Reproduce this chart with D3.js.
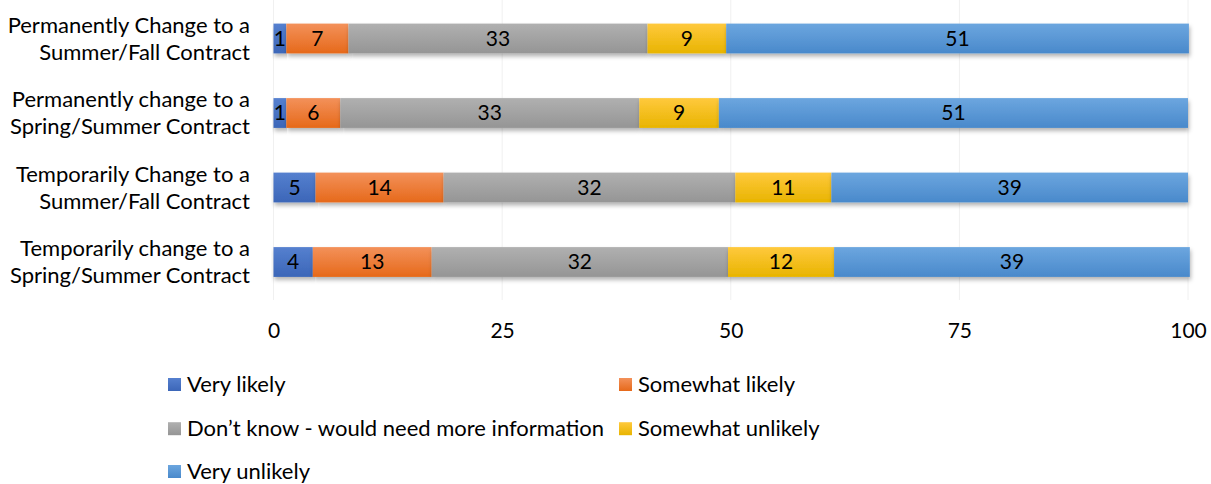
<!DOCTYPE html>
<html>
<head>
<meta charset="utf-8">
<script src="https://cdn.jsdelivr.net/npm/d3@7"></script>
<style>
  body { margin: 0; background: #fff; }
  svg { display: block; font-family: Lato, "Noto Sans", sans-serif; }
</style>
</head>
<body>
<div class="chart"></div>
<script>
const categories = [
  ["Permanently Change to a", "Summer/Fall Contract"],
  ["Permanently change to a", "Spring/Summer Contract"],
  ["Temporarily Change to a", "Summer/Fall Contract"],
  ["Temporarily change to a", "Spring/Summer Contract"]
];
const seriesNames = ["Very likely", "Somewhat likely", "Don\u2019t know - would need more information", "Somewhat unlikely", "Very unlikely"];
const veryLikely = [1.4, 1.4, 4.6, 4.3];
const somewhatLikely = [6.8, 5.9, 14.0, 13.0];
const dontKnow = [32.7, 32.7, 31.9, 32.4];
const somewhatUnlikely = [8.6, 8.7, 10.5, 11.6];
const veryUnlikely = [50.6, 51.3, 39.0, 38.9];
const xTicks = [0, 25, 50, 75, 100];

const colors = [
  ["#5580cf", "#3c66b8"],
  ["#f3915a", "#e6691a"],
  ["#b0b0b0", "#959595"],
  ["#ffc93d", "#e8b400"],
  ["#6ca6df", "#4989cb"]
];

const W = 1211, H = 484;
const svg = d3.select(".chart").append("svg").attr("width", W).attr("height", H);
const defs = svg.append("defs");

colors.forEach((c, i) => {
  const g = defs.append("linearGradient").attr("id", "grad" + i)
    .attr("x1", "0%").attr("y1", "0%").attr("x2", "0%").attr("y2", "100%");
  g.append("stop").attr("offset", "0%").attr("stop-color", c[0]);
  g.append("stop").attr("offset", "100%").attr("stop-color", c[1]);
});

const shadow = defs.append("filter").attr("id", "shadow")
  .attr("x", "-5%").attr("y", "-20%").attr("width", "110%").attr("height", "160%");
shadow.append("feDropShadow").attr("dx", 1).attr("dy", 3).attr("stdDeviation", 2)
  .attr("flood-color", "#000").attr("flood-opacity", 0.3);

const x = d3.scaleLinear().domain([0, 100]).range([273.5, 1188]);
const y = d3.scaleBand().domain(d3.range(categories.length))
  .range([1.25, 299.25]).paddingInner(0.6).paddingOuter(0.3);

// gridlines
svg.append("g").selectAll("line").data(xTicks).join("line")
  .attr("x1", d => x(d)).attr("x2", d => x(d))
  .attr("y1", 0).attr("y2", 300)
  .attr("stroke", "#f0f0f0").attr("stroke-width", 1);

const rows = categories.map((c, i) => ({
  veryLikely: veryLikely[i], somewhatLikely: somewhatLikely[i], dontKnow: dontKnow[i],
  somewhatUnlikely: somewhatUnlikely[i], veryUnlikely: veryUnlikely[i]
}));
const keys = ["veryLikely", "somewhatLikely", "dontKnow", "somewhatUnlikely", "veryUnlikely"];
const stacked = d3.stack().keys(keys)(rows);

const layers = svg.append("g").selectAll("g").data(stacked).join("g")
  .attr("fill", (d, i) => `url(#grad${i})`);

layers.selectAll("rect").data(d => d.map((v, j) => ({ v, j }))).join("rect")
  .attr("x", d => x(d.v[0]))
  .attr("y", d => y(d.j))
  .attr("width", d => x(d.v[1]) - x(d.v[0]))
  .attr("height", y.bandwidth())
  .attr("filter", "url(#shadow)");

// value labels
layers.selectAll("text").data(d => d.map((v, j) => ({ v, j }))).join("text")
  .attr("x", d => (x(d.v[0]) + x(d.v[1])) / 2)
  .attr("y", d => y(d.j) + y.bandwidth() / 2)
  .attr("dy", "0.35em")
  .attr("text-anchor", "middle")
  .attr("fill", "#000")
  .attr("font-size", 21)
  .text(d => Math.round(d.v[1] - d.v[0]));

// category labels
const cat = svg.append("g").selectAll("text").data(categories).join("text")
  .attr("text-anchor", "end")
  .attr("font-size", 22)
  .attr("fill", "#000");
cat.selectAll("tspan").data((d, i) => d.map(t => ({ t, i }))).join("tspan")
  .attr("x", 250)
  .attr("y", (d, k) => y(d.i) + y.bandwidth() / 2 + (k === 0 ? -13.5 : 13.5))
  .attr("dy", "0.35em")
  .text(d => d.t);

// x axis
const axis = svg.append("g").attr("transform", "translate(0,300)")
  .call(d3.axisBottom(x).tickValues(xTicks).tickSize(0).tickPadding(0));
axis.select(".domain").remove();
axis.selectAll("text").attr("font-size", 21).attr("fill", "#000")
  .attr("font-family", "Lato, 'Noto Sans', sans-serif")
  .attr("y", 30.5).attr("dy", "0.35em");

// legend
const legendPos = [[168, 384.5], [619, 384.5], [168, 428.7], [619, 428.7], [168, 471.5]];
const legend = svg.append("g").selectAll("g").data(seriesNames).join("g")
  .attr("transform", (d, i) => `translate(${legendPos[i][0]},${legendPos[i][1]})`);
legend.append("rect").attr("x", 0).attr("y", -6.5).attr("width", 13).attr("height", 13)
  .attr("fill", (d, i) => `url(#grad${i})`);
legend.append("text").attr("x", 19).attr("dy", "0.35em")
  .attr("font-size", 22).attr("fill", "#000").text(d => d);
</script>
</body>
</html>
